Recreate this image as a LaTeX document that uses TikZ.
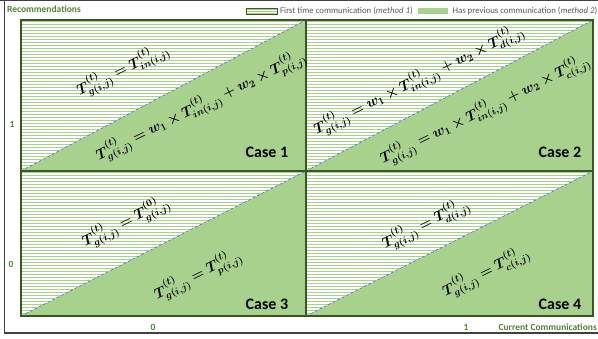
\documentclass[tikz,border=0pt]{standalone}
\usepackage{fontspec}
\setmainfont{Carlito}
\usepackage{amsmath,bm}
\definecolor{cfill}{HTML}{A9D18E}
\definecolor{cborder}{HTML}{385723}
\definecolor{clabel}{HTML}{548235}
\definecolor{cdiag}{HTML}{4472C4}
\definecolor{cgray}{HTML}{595959}
\newcommand\mycell[4]{%
  \fill[white] (#1,#2) -- (#3,#2) -- (#1,#4) -- cycle;
  \begin{scope}
    \clip (#1,#2) -- (#3,#2) -- (#1,#4) -- cycle;
    \foreach \k in {0,...,52} \draw[stripe] (#1,#2+1.5+3*\k) -- (#3,#2+1.5+3*\k);
  \end{scope}
  \fill[cfill] (#3,#2) -- (#3,#4) -- (#1,#4) -- cycle;
  \draw[diag] (#1,#4) -- (#3,#2);
  \draw[cellborder] (#1,#2) rectangle (#3,#4);
}
\begin{document}
\begin{tikzpicture}[x=1pt,y=-1pt,
  stripe/.style={cfill,line width=1.5pt},
  diag/.style={cdiag,densely dashed,line width=0.6pt},
  cellborder/.style={cborder,line width=1.8pt},
  axlab/.style={text=clabel,font=\fontsize{9.5}{11}\selectfont\bfseries,inner sep=0pt},
  legtext/.style={text=cgray,font=\fontsize{8.8}{11}\selectfont,inner sep=0pt},
  formula/.style={font=\fontsize{14.5}{17}\selectfont,rotate=26,inner sep=0pt},
  caselab/.style={font=\fontsize{16}{19}\selectfont\bfseries,inner sep=0pt}]
\useasboundingbox (0,0) rectangle (598,339);
% outer frame
\draw[black!75,line width=1.2pt] (0,0.6) -- (598,0.6);
\draw[black!75,line width=1.2pt] (4.5,0) -- (4.5,333) -- (598,333);
% cells
\mycell{21}{20}{306}{171}
\mycell{306}{20}{593}{171}
\mycell{21}{171}{306}{316}
\mycell{306}{171}{593}{316}
% axis labels
\node[axlab,anchor=west] (rec) at (7,9) {Recommendations};
\node[axlab] (y1) at (12,124) {1};
\node[axlab] (y0) at (11,264) {0};
\node[axlab] (x0) at (153,327) {0};
\node[axlab] (x1) at (466,327) {1};
\node[axlab,anchor=east] (xlab) at (597,327) {Current Communications};
% legend
\begin{scope}
  \clip (246,8) rectangle (277,14.5);
  \fill[white] (246,8) rectangle (277,14.5);
  \foreach \k in {0,1,2} \draw[stripe,line width=1.2pt] (246,9+2.4*\k) -- (277,9+2.4*\k);
\end{scope}
\draw[cborder,line width=0.6pt] (246,8) rectangle (277,14.5);
\node[legtext,anchor=west] (leg1) at (280,10.5) {First time communication (\textit{method 1})};
\fill[cfill] (418,8.5) rectangle (448,14.5);
\node[legtext,anchor=east] (leg2) at (597.5,10.5) {Has previous communication (\textit{method 2})};
% formulas
\node[formula] (f1a) at (123,70) {$\bm{T^{(t)}_{g(i,j)} = T^{(t)}_{in(i,j)}}$};
\node[formula] (f1b) at (201,106) {$\bm{T^{(t)}_{g(i,j)} = w_1 \times T^{(t)}_{in(i,j)} + w_2 \times T^{(t)}_{p(i,j)}}$};
\node[formula] (f2a) at (419,80) {$\bm{T^{(t)}_{g(i,j)} = w_1 \times T^{(t)}_{in(i,j)} + w_2 \times T^{(t)}_{d(i,j)}}$};
\node[formula] (f2b) at (485,110) {$\bm{T^{(t)}_{g(i,j)} = w_1 \times T^{(t)}_{in(i,j)} + w_2 \times T^{(t)}_{c(i,j)}}$};
\node[formula] (f3a) at (126,222) {$\bm{T^{(t)}_{g(i,j)} = T^{(0)}_{g(i,j)}}$};
\node[formula] (f3b) at (198,275) {$\bm{T^{(t)}_{g(i,j)} = T^{(t)}_{p(i,j)}}$};
\node[formula] (f4a) at (426,224) {$\bm{T^{(t)}_{g(i,j)} = T^{(t)}_{d(i,j)}}$};
\node[formula] (f4b) at (486,272) {$\bm{T^{(t)}_{g(i,j)} = T^{(t)}_{c(i,j)}}$};
% case labels
\node[caselab] (c1) at (267,152) {Case 1};
\node[caselab] (c2) at (560,152) {Case 2};
\node[caselab] (c3) at (267,304) {Case 3};
\node[caselab] (c4) at (560,304) {Case 4};
\end{tikzpicture}
\end{document}
